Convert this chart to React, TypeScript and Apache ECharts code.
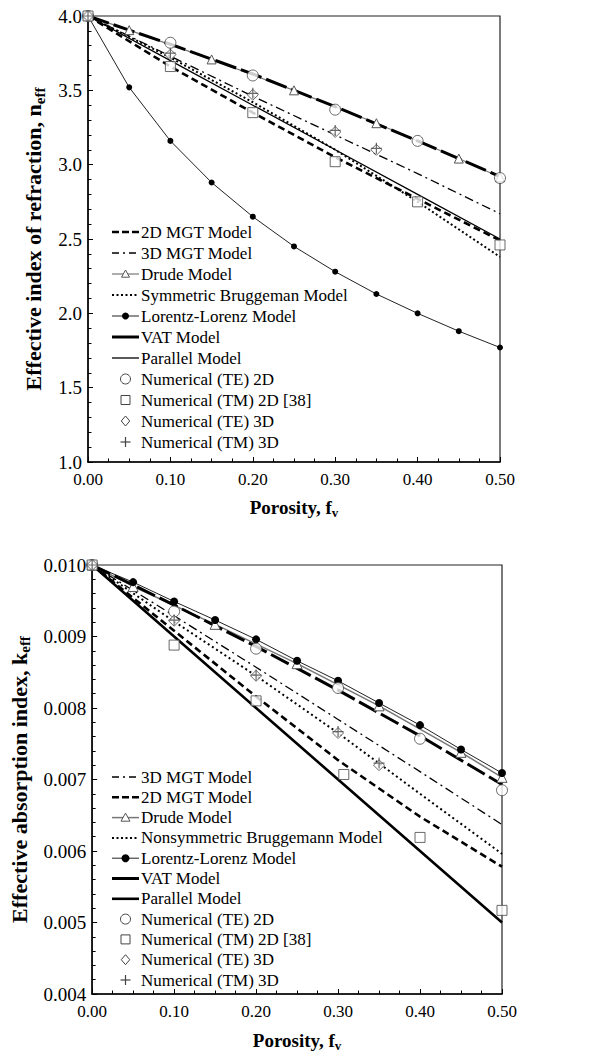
import React, { useEffect, useRef } from 'react';
import * as echarts from 'echarts';

const FONT = 'Liberation Serif';

// ---------- x positions (porosity) ----------
const FV_TENTHS = [0, 0.1, 0.2, 0.3, 0.4, 0.5];
const FV_TWENTIETHS = [0, 0.05, 0.1, 0.15, 0.2, 0.25, 0.3, 0.35, 0.4, 0.45, 0.5];
const FV_DRUDE = [0, 0.05, 0.15, 0.25, 0.35, 0.45, 0.5];
const FV_TE3D = [0, 0.1, 0.2, 0.3, 0.35];
const FV_TM2D_K = [0, 0.1, 0.2, 0.307, 0.4, 0.5];

// ---------- top chart: refractive index n_eff ----------
const N_MGT2D = [4.0, 3.66, 3.35, 3.05, 2.77, 2.49];
const N_MGT3D = [4.0, 3.73, 3.46, 3.2, 2.94, 2.67];
const N_DRUDE = [4.0, 3.905, 3.708, 3.5, 3.279, 3.041, 2.915];
const N_SBRUG = [4.0, 3.72, 3.42, 3.1, 2.75, 2.38];
const N_LL = [4.0, 3.52, 3.16, 2.88, 2.65, 2.45, 2.28, 2.13, 2.0, 1.88, 1.77];
const N_VAT = [4.0, 3.81, 3.61, 3.39, 3.16, 2.92];
const N_PAR = [4.0, 3.7, 3.4, 3.1, 2.8, 2.5];
const N_TE2D = [4.0, 3.82, 3.6, 3.37, 3.16, 2.91];
const N_TM2D = [4.0, 3.66, 3.35, 3.02, 2.75, 2.46];
const N_TE3D = [4.0, 3.74, 3.47, 3.22, 3.1];
const N_TM3D = [4.0, 3.75, 3.48, 3.23, 3.11];
const N_TICKS = [1.0, 4.0, 0.5];

// ---------- bottom chart: absorption index k_eff ----------
const K_MGT3D = [0.01, 0.00929, 0.00857, 0.00784, 0.00711, 0.00637];
const K_MGT2D = [0.01, 0.00908, 0.00816, 0.00727, 0.00648, 0.00578];
const K_DRUDE = [0.01, 0.0097, 0.00917, 0.00862, 0.00803, 0.00738, 0.00703];
const K_NBRUG = [0.01, 0.00921, 0.00845, 0.00765, 0.0068, 0.00596];
const K_LL = [0.01, 0.00976, 0.00949, 0.00923, 0.00896, 0.00866, 0.00838, 0.00807, 0.00776, 0.00742, 0.00709];
const K_VAT = [0.01, 0.00944, 0.00886, 0.00825, 0.00761, 0.00693];
const K_PAR = [0.01, 0.009, 0.008, 0.007, 0.006, 0.005];
const K_TE2D = [0.01, 0.00935, 0.00883, 0.00828, 0.00757, 0.00685];
const K_TM2D = [0.01, 0.00888, 0.0081, 0.00707, 0.00619, 0.00517];
const K_TE3D = [0.01, 0.00922, 0.00845, 0.00765, 0.0072];
const K_TM3D = [0.01, 0.00923, 0.00846, 0.00767, 0.00723];
const K_TICKS = [0.004, 0.01, 0.001];

const X_TICKS = [0, 0.5, 0.1];

const pair = (xs: number[], ys: number[]) => xs.map((x, i) => [x, ys[i]]);

const PLUS = 'path://M5,0L5,10M0,5L10,5';
const MARK = '#444';

// style descriptors (shared by series and legend)
type Sty = {
  name: string;
  kind: 'line' | 'scatter';
  width?: number;
  dash?: number[] | null;
  legendDash?: number[] | null;
  color?: string;
  symbol?: string; // circle | rect | diamond | triangle | plus | dot
  size?: number;
  legendSize?: number;
};

const S_MGT2D: Sty = { name: '2D MGT Model', kind: 'line', width: 2.6, dash: [7, 4], legendDash: [7, 3] };
const S_MGT3D: Sty = { name: '3D MGT Model', kind: 'line', width: 1.3, dash: [9, 4, 2, 4], legendDash: [7, 4, 2, 4] };
const S_DRUDE_T: Sty = { name: 'Drude Model', kind: 'line', width: 1.2, dash: null, color: '#777', symbol: 'triangle', size: 9, legendSize: 8 };
const S_DRUDE_B: Sty = { name: 'Drude Model', kind: 'line', width: 1.5, dash: null, color: '#777', symbol: 'triangle', size: 10, legendSize: 9 };
const S_SBRUG: Sty = { name: 'Symmetric Bruggeman Model', kind: 'line', width: 2, dash: [2, 2.5], legendDash: [2, 2.5] };
const S_NBRUG: Sty = { name: 'Nonsymmetric Bruggemann Model', kind: 'line', width: 2, dash: [2, 3], legendDash: [2, 2.5] };
const S_LL_T: Sty = { name: 'Lorentz-Lorenz Model', kind: 'line', width: 1, dash: null, color: '#222', symbol: 'dot', size: 6, legendSize: 7 };
const S_LL_B: Sty = { name: 'Lorentz-Lorenz Model', kind: 'line', width: 1, dash: null, color: '#222', symbol: 'dot', size: 8, legendSize: 8 };
const S_VAT_T: Sty = { name: 'VAT Model', kind: 'line', width: 3, dash: [22, 5], legendDash: null };
const S_VAT_B: Sty = { name: 'VAT Model', kind: 'line', width: 3, dash: [20, 5], legendDash: null };
const S_PAR_T: Sty = { name: 'Parallel Model', kind: 'line', width: 1.3, dash: null };
const S_PAR_B: Sty = { name: 'Parallel Model', kind: 'line', width: 2.6, dash: null };
const S_TE2D: Sty = { name: 'Numerical (TE) 2D', kind: 'scatter', symbol: 'circle', size: 11, legendSize: 10 };
const S_TM2D: Sty = { name: 'Numerical (TM) 2D [38]', kind: 'scatter', symbol: 'rect', size: 10, legendSize: 9 };
const S_TE3D: Sty = { name: 'Numerical (TE) 3D', kind: 'scatter', symbol: 'diamond', size: 11, legendSize: 10 };
const S_TM3D: Sty = { name: 'Numerical (TM) 3D', kind: 'scatter', symbol: 'plus', size: 11, legendSize: 10 };

function echartsSymbol(s?: string) {
  if (s === 'plus') return PLUS;
  if (s === 'dot') return 'circle';
  return s || 'none';
}

function makeSeries(sty: Sty, data: number[][]) {
  if (sty.kind === 'line') {
    const color = sty.color || '#000';
    const hasSym = !!sty.symbol;
    return {
      type: 'line',
      name: sty.name,
      data,
      symbol: hasSym ? echartsSymbol(sty.symbol) : 'none',
      showSymbol: hasSym,
      symbolSize: sty.size || 6,
      lineStyle: { color, width: sty.width, type: sty.dash ? sty.dash : 'solid' },
      itemStyle:
        sty.symbol === 'dot'
          ? { color: '#000', borderWidth: 0 }
          : { color: '#fff', borderColor: '#555', borderWidth: 1 },
      z: 2,
      silent: true,
    };
  }
  const plus = sty.symbol === 'plus';
  return {
    type: 'scatter',
    name: sty.name,
    data,
    symbol: echartsSymbol(sty.symbol),
    symbolSize: sty.size,
    itemStyle: plus
      ? { color: 'none', borderColor: MARK, borderWidth: 1.2 }
      : { color: '#fff', borderColor: MARK, borderWidth: 1 },
    z: plus ? 6 : 5,
    silent: true,
  };
}

// legend drawn with graphic elements, from the same style descriptors
function legendGraphic(items: Sty[], left: number, top: number, pitch: number) {
  const els: any[] = [];
  const iconW = 27;
  const cx = left + iconW / 2;
  items.forEach((sty, i) => {
    const y = top + i * pitch;
    if (sty.kind === 'line') {
      els.push({
        type: 'line',
        shape: { x1: left, y1: y, x2: left + iconW, y2: y },
        style: {
          stroke: sty.color || '#000',
          lineWidth: sty.width,
          lineDash: sty.legendDash || null,
        },
        silent: true,
      });
    }
    const sz = sty.legendSize || 8;
    const r = sz / 2;
    const markStroke = sty.kind === 'line' ? '#555' : MARK;
    if (sty.symbol === 'circle') {
      els.push({ type: 'circle', shape: { cx, cy: y, r }, style: { fill: '#fff', stroke: markStroke, lineWidth: 1 }, silent: true });
    } else if (sty.symbol === 'dot') {
      els.push({ type: 'circle', shape: { cx, cy: y, r }, style: { fill: '#000' }, silent: true });
    } else if (sty.symbol === 'rect') {
      els.push({ type: 'rect', shape: { x: cx - r, y: y - r, width: sz, height: sz }, style: { fill: '#fff', stroke: markStroke, lineWidth: 1 }, silent: true });
    } else if (sty.symbol === 'diamond') {
      els.push({ type: 'polygon', shape: { points: [[cx, y - r], [cx + r * 0.85, y], [cx, y + r], [cx - r * 0.85, y]] }, style: { fill: '#fff', stroke: markStroke, lineWidth: 1 }, silent: true });
    } else if (sty.symbol === 'triangle') {
      els.push({ type: 'polygon', shape: { points: [[cx, y - r], [cx + r, y + r * 0.8], [cx - r, y + r * 0.8]] }, style: { fill: '#fff', stroke: markStroke, lineWidth: 1 }, silent: true });
    } else if (sty.symbol === 'plus') {
      els.push({ type: 'line', shape: { x1: cx, y1: y - r, x2: cx, y2: y + r }, style: { stroke: MARK, lineWidth: 1.2 }, silent: true });
      els.push({ type: 'line', shape: { x1: cx - r, y1: y, x2: cx + r, y2: y }, style: { stroke: MARK, lineWidth: 1.2 }, silent: true });
    }
    els.push({
      type: 'text',
      x: left + iconW + 2,
      y,
      style: { text: sty.name, fontFamily: FONT, fontSize: 17, fill: '#000', align: 'left', verticalAlign: 'middle' },
      silent: true,
    });
  });
  return els;
}

function tickStyle(split: number) {
  return { show: true, splitNumber: split, length: 3.5, lineStyle: { color: '#000', width: 1 } };
}

const RICH_X = {
  a: { fontFamily: FONT, fontSize: 19, fontWeight: 'bold', color: '#000', lineHeight: 24 },
  s: { fontFamily: FONT, fontSize: 13, fontWeight: 'bold', color: '#000', lineHeight: 13, verticalAlign: 'bottom' },
};
const RICH_Y = {
  a: { fontFamily: FONT, fontSize: 22, fontWeight: 'bold', color: '#000', lineHeight: 27 },
  s: { fontFamily: FONT, fontSize: 15, fontWeight: 'bold', color: '#000', lineHeight: 15, verticalAlign: 'bottom' },
};

function buildOption(cfg: any) {
  const axisLine = { show: true, onZero: false, lineStyle: { color: '#000', width: 1.5 } };
  const axisTick = { show: true, inside: true, length: 5, lineStyle: { color: '#000', width: 1 } };
  return {
    animation: false,
    grid: {
      left: 88,
      top: cfg.gridTop,
      width: cfg.gridWidth,
      height: cfg.gridHeight,
      show: true,
      borderColor: '#222',
      borderWidth: 1.2,
      backgroundColor: 'transparent',
    },
    xAxis: {
      type: 'value',
      min: X_TICKS[0],
      max: X_TICKS[1],
      interval: X_TICKS[2],
      axisLine,
      axisTick,
      minorTick: tickStyle(4),
      splitLine: { show: false },
      axisLabel: {
        fontFamily: FONT,
        fontSize: 17,
        color: '#000',
        margin: 9,
        formatter: (v: number) => v.toFixed(2),
      },
      name: '{a|Porosity, f}{s|v}',
      nameLocation: 'middle',
      nameGap: cfg.xNameGap,
      nameTextStyle: { rich: RICH_X },
    },
    yAxis: {
      type: 'value',
      min: cfg.yTicks[0],
      max: cfg.yTicks[1],
      interval: cfg.yTicks[2],
      axisLine,
      axisTick,
      minorTick: tickStyle(5),
      splitLine: { show: false },
      axisLabel: {
        fontFamily: FONT,
        fontSize: 19,
        color: '#000',
        margin: 6,
        formatter: (v: number) => v.toFixed(cfg.yDigits),
      },
      name: cfg.yName,
      nameLocation: 'middle',
      nameGap: cfg.yNameGap,
      nameTextStyle: { rich: RICH_Y },
    },
    graphic: legendGraphic(cfg.legendItems, 112, cfg.legendTop, cfg.legendPitch),
    series: cfg.series,
  };
}

const topOption = buildOption({
  gridTop: 16,
  gridWidth: 412,
  gridHeight: 446,
  yTicks: N_TICKS,
  yDigits: 1,
  yName: '{a|Effective index of refraction, n}{s|eff}',
  yNameGap: 41,
  xNameGap: 33,
  legendTop: 232,
  legendPitch: 21,
  legendItems: [S_MGT2D, S_MGT3D, S_DRUDE_T, S_SBRUG, S_LL_T, S_VAT_T, S_PAR_T, S_TE2D, S_TM2D, S_TE3D, S_TM3D],
  series: [
    makeSeries(S_MGT2D, pair(FV_TENTHS, N_MGT2D)),
    makeSeries(S_MGT3D, pair(FV_TENTHS, N_MGT3D)),
    makeSeries(S_DRUDE_T, pair(FV_DRUDE, N_DRUDE)),
    makeSeries(S_SBRUG, pair(FV_TENTHS, N_SBRUG)),
    makeSeries(S_LL_T, pair(FV_TWENTIETHS, N_LL)),
    makeSeries(S_VAT_T, pair(FV_TENTHS, N_VAT)),
    makeSeries(S_PAR_T, pair(FV_TENTHS, N_PAR)),
    makeSeries(S_TE2D, pair(FV_TENTHS, N_TE2D)),
    makeSeries(S_TM2D, pair(FV_TENTHS, N_TM2D)),
    makeSeries(S_TE3D, pair(FV_TE3D, N_TE3D)),
    makeSeries(S_TM3D, pair(FV_TE3D, N_TM3D)),
  ],
});

const bottomOption = buildOption({
  gridTop: 37,
  gridWidth: 414,
  gridHeight: 433,
  yTicks: K_TICKS,
  yDigits: 3,
  yName: '{a|Effective absorption index, k}{s|eff}',
  yNameGap: 53,
  xNameGap: 34,
  legendTop: 249,
  legendPitch: 20.3,
  legendItems: [S_MGT3D, S_MGT2D, S_DRUDE_B, S_NBRUG, S_LL_B, S_VAT_B, S_PAR_B, S_TE2D, S_TM2D, S_TE3D, S_TM3D],
  series: [
    makeSeries(S_MGT3D, pair(FV_TENTHS, K_MGT3D)),
    makeSeries(S_MGT2D, pair(FV_TENTHS, K_MGT2D)),
    makeSeries(S_DRUDE_B, pair(FV_DRUDE, K_DRUDE)),
    makeSeries(S_NBRUG, pair(FV_TENTHS, K_NBRUG)),
    makeSeries(S_LL_B, pair(FV_TWENTIETHS, K_LL)),
    makeSeries(S_VAT_B, pair(FV_TENTHS, K_VAT)),
    makeSeries(S_PAR_B, pair(FV_TENTHS, K_PAR)),
    makeSeries(S_TE2D, pair(FV_TENTHS, K_TE2D)),
    makeSeries(S_TM2D, pair(FV_TM2D_K, K_TM2D)),
    makeSeries(S_TE3D, pair(FV_TE3D, K_TE3D)),
    makeSeries(S_TM3D, pair(FV_TE3D, K_TM3D)),
  ],
});

function Chart({ option, top, height }: { option: any; top: number; height: number }) {
  const ref = useRef<HTMLDivElement>(null);
  useEffect(() => {
    if (!ref.current) return;
    const chart = echarts.init(ref.current, undefined, { renderer: 'svg' });
    chart.setOption(option);
    return () => chart.dispose();
  }, [option]);
  return <div ref={ref} style={{ position: 'absolute', left: 0, top, width: 609, height }} />;
}

export default function App() {
  useEffect(() => {
    document.body.style.margin = '0';
  }, []);
  return (
    <div style={{ position: 'relative', width: 609, height: 1057, background: '#fff' }}>
      <Chart option={topOption} top={0} height={528} />
      <Chart option={bottomOption} top={528} height={529} />
    </div>
  );
}
